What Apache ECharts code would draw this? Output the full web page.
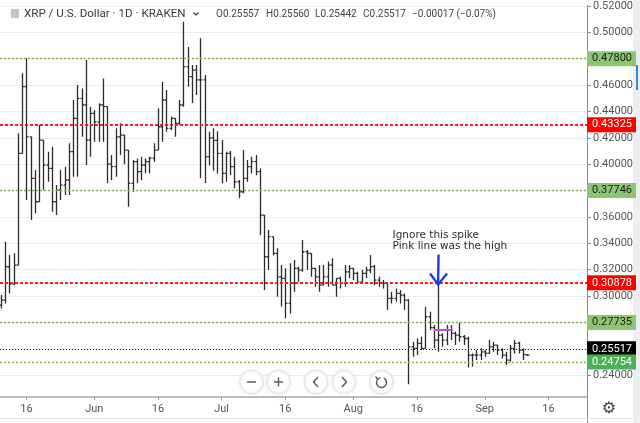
<!DOCTYPE html>
<html><head><meta charset="utf-8">
<script src="https://cdn.jsdelivr.net/npm/echarts@6/dist/echarts.min.js"></script>
<style>html,body{margin:0;padding:0;background:#fff}#c{width:640px;height:423px}</style>
</head><body><div id="c"></div><script>
// ---------- data ----------
const firstDate = '2019-05-10';
const barCount = 125;
const openVals = [
0.2930,0.2969,0.3222,0.3091,0.3235,0.4082,0.4588,0.4208,0.3893,0.3715,
0.4183,0.3994,0.3969,0.3715,0.3804,0.3842,0.3880,0.4095,0.4348,0.4500,
0.4449,0.4183,0.4386,0.4320,0.4449,0.4436,0.4000,0.3981,0.4208,0.4221,
0.4107,0.3855,0.4019,0.3943,0.3994,0.4019,0.4045,0.4107,0.4284,0.4487,
0.4272,0.4348,0.4310,0.4449,0.4740,0.4664,0.4714,0.4639,0.4639,0.4057,
0.4200,0.4180,0.4082,0.3930,0.4082,0.3981,0.3867,0.3791,0.3892,0.3981,
0.4019,0.3943,0.3614,0.3298,0.3450,0.3324,0.3146,0.3134,0.2944,0.3096,
0.3210,0.3197,0.3336,0.3324,0.3210,0.3146,0.3083,0.3146,0.3235,0.3083,
0.3134,0.3096,0.3184,0.3210,0.3172,0.3108,0.3172,0.3197,0.3223,0.3121,
0.3096,0.3096,0.2982,0.2982,0.3020,0.3007,0.2969,0.2615,0.2603,0.2641,
0.2603,0.2843,0.2760,0.2665,0.2704,0.2666,0.2742,0.2717,0.2704,0.2691,
0.2678,0.2552,0.2552,0.2552,0.2577,0.2565,0.2615,0.2628,0.2590,0.2552,
0.2514,0.2603,0.2641,0.2590,0.25557];
const highVals = [
0.3007,0.3412,0.3311,0.3324,0.4234,0.4689,0.4803,0.4208,0.3956,0.4297,
0.4183,0.4095,0.4133,0.3842,0.3956,0.3981,0.4158,0.4487,0.4601,0.4575,
0.4791,0.4436,0.4411,0.4462,0.4651,0.4436,0.4069,0.4272,0.4310,0.4221,
0.4107,0.4032,0.4044,0.4057,0.4044,0.4057,0.4158,0.4424,0.4626,0.4563,
0.4360,0.4348,0.4487,0.5081,0.4889,0.4752,0.4752,0.4955,0.4676,0.4246,
0.4272,0.4250,0.4183,0.4095,0.4100,0.4057,0.3880,0.4107,0.4031,0.4057,
0.4069,0.3969,0.3614,0.3500,0.3450,0.3362,0.3235,0.3210,0.3248,0.3273,
0.3222,0.3425,0.3349,0.3324,0.3210,0.3235,0.3235,0.3261,0.3286,0.3134,
0.3146,0.3235,0.3235,0.3210,0.3184,0.3197,0.3223,0.3311,0.3235,0.3147,
0.3121,0.3096,0.3033,0.3058,0.3045,0.3020,0.2975,0.2653,0.2678,0.2691,
0.2918,0.2881,0.2780,0.3088,0.2717,0.2780,0.2780,0.2729,0.2797,0.2704,
0.2691,0.2565,0.2590,0.2603,0.2590,0.2666,0.2653,0.2628,0.2603,0.2577,
0.2628,0.2666,0.2653,0.2603,0.25560];
const lowVals = [
0.2905,0.2944,0.3020,0.3083,0.3235,0.4082,0.3728,0.3576,0.3627,0.3715,
0.3804,0.3867,0.3639,0.3614,0.3728,0.3766,0.3766,0.3905,0.3905,0.4208,
0.3994,0.4057,0.4170,0.4170,0.4170,0.3855,0.3880,0.3905,0.4069,0.4000,
0.3677,0.3791,0.3855,0.3880,0.3931,0.3931,0.4019,0.4107,0.4170,0.4246,
0.4259,0.4208,0.4297,0.4436,0.4588,0.4464,0.4525,0.3895,0.3857,0.3990,
0.3950,0.3930,0.3855,0.3867,0.3917,0.3817,0.3741,0.3780,0.3867,0.3930,
0.3917,0.3462,0.3045,0.3197,0.3310,0.2994,0.2919,0.2830,0.2868,0.3033,
0.3108,0.3184,0.3197,0.3146,0.3070,0.3033,0.3083,0.3070,0.3083,0.2994,
0.3058,0.3070,0.3134,0.3121,0.3108,0.3108,0.3134,0.3172,0.3083,0.3071,
0.3058,0.2894,0.2944,0.2957,0.2944,0.2894,0.2330,0.2539,0.2552,0.2590,
0.2603,0.2742,0.2603,0.2577,0.2615,0.2628,0.2666,0.2628,0.2653,0.2628,
0.2458,0.2463,0.2514,0.2514,0.2539,0.2565,0.2577,0.2552,0.2527,0.2476,
0.2501,0.2565,0.2565,0.2514,0.25442];
const closeVals = [
0.2969,0.3222,0.3091,0.3235,0.4082,0.4588,0.4208,0.3893,0.3715,0.4183,
0.3994,0.3969,0.3715,0.3804,0.3842,0.3880,0.4095,0.4348,0.4500,0.4449,
0.4183,0.4386,0.4320,0.4449,0.4436,0.4000,0.3981,0.4208,0.4221,0.4107,
0.3855,0.4019,0.3943,0.3994,0.4019,0.4045,0.4107,0.4284,0.4487,0.4272,
0.4348,0.4310,0.4449,0.4740,0.4664,0.4714,0.4639,0.4639,0.4057,0.4200,
0.4180,0.4082,0.3930,0.4082,0.3981,0.3867,0.3791,0.3892,0.3981,0.4019,
0.3943,0.3614,0.3298,0.3450,0.3324,0.3146,0.3134,0.2944,0.3096,0.3210,
0.3197,0.3336,0.3324,0.3210,0.3146,0.3083,0.3146,0.3235,0.3083,0.3134,
0.3096,0.3184,0.3210,0.3172,0.3108,0.3172,0.3197,0.3223,0.3121,0.3096,
0.3096,0.2982,0.2982,0.3020,0.3007,0.2969,0.2615,0.2603,0.2641,0.2603,
0.2843,0.2760,0.2665,0.2704,0.2666,0.2742,0.2717,0.2704,0.2691,0.2678,
0.2552,0.2552,0.2552,0.2577,0.2565,0.2615,0.2628,0.2590,0.2552,0.2514,
0.2603,0.2641,0.2590,0.25557,0.25517];

const levelValues = [0.47800, 0.43325, 0.37746, 0.30878, 0.27735, 0.25517, 0.24754];
const levelKinds  = ['green','red','green','red','green','price','greenDark'];
const pinkLineValue = 0.2742;
const pinkLineFrom = '2019-08-20', pinkLineTo = '2019-08-24';
const spikeDate = '2019-08-21', spikeHigh = 0.30878;
const noteLines = ['Ignore this spike', 'Pink line was the high'];
const xTickDates = ['2019-05-16','2019-06-01','2019-06-16','2019-07-01','2019-07-16','2019-08-01','2019-08-16','2019-09-01','2019-09-16'];
const headerTitle = 'XRP / U.S. Dollar · 1D · KRAKEN';
const headerChange = '−0.00017 (−0.07%)';

// ---------- helpers ----------
const DAY = 86400000;
const refT = Date.parse('2019-05-16T00:00:00Z');
const dayNum = s => Math.round((Date.parse(s + 'T00:00:00Z') - refT) / DAY);
const dates = [];
for (let i = 0; i < barCount; i++) dates.push(new Date(Date.parse(firstDate + 'T00:00:00Z') + i * DAY).toISOString().slice(0, 10));
const MONTHS = ['Jan','Feb','Mar','Apr','May','Jun','Jul','Aug','Sep','Oct','Nov','Dec'];
const items = dates.map((d, i) => [dayNum(d), openVals[i], highVals[i], lowVals[i], closeVals[i]]);

const levelStyle = {
  green:     {line:'#7cb342', type:[2,2], width:1.4, box:'#8fc474', text:'#1b1b1b'},
  red:       {line:'#ff1a1a', type:[3,2], width:1.8, box:'#ff0000', text:'#ffffff'},
  price:     {line:'#111111', type:[1,2], width:1,   box:'#000000', text:'#ffffff'},
  greenDark: {line:'#7cb342', type:[2,2], width:1.4, box:'#4caf50', text:'#ffffff'}
};
const FONT = 'Roboto';

function renderItem(params, api) {
  const x = api.value(0);
  const pH = api.coord([x, api.value(2)]);
  const pL = api.coord([x, api.value(3)]);
  const pO = api.coord([x, api.value(1)]);
  const pC = api.coord([x, api.value(4)]);
  const w = api.size([1, 0])[0] * 0.45;
  const cx = Math.round(pH[0]) + 0.5;
  const style = {stroke: '#2b2b2b', lineWidth: 1.3};
  return {type: 'group', children: [
    {type: 'line', shape: {x1: cx, y1: pH[1], x2: cx, y2: pL[1]}, style},
    {type: 'line', shape: {x1: cx - w, y1: pO[1], x2: cx, y2: pO[1]}, style},
    {type: 'line', shape: {x1: cx, y1: pC[1], x2: cx + w, y2: pC[1]}, style}
  ]};
}

const markData = levelValues.map((v, i) => {
  const s = levelStyle[levelKinds[i]];
  return {
    yAxis: v,
    lineStyle: {color: s.line, type: s.type, width: s.width},
    label: {show: true, position: 'end', distance: 0, formatter: v.toFixed(5),
      backgroundColor: s.box, color: s.text, padding: [2, 4, 2, 5], fontSize: 11, fontFamily: FONT}
  };
});
markData.push([
  {coord: [dayNum(pinkLineFrom), pinkLineValue], lineStyle: {color: '#c44fc4', type: 'solid', width: 2}, label: {show: false}},
  {coord: [dayNum(pinkLineTo) + 0.5, pinkLineValue]}
]);

const chart = echarts.init(document.getElementById('c'), null, {renderer: 'canvas'});
const xMin = -6.22, xMax = 132.09;
chart.setOption({
  animation: false,
  backgroundColor: '#ffffff',
  grid: {left: 0, right: 53, top: 6, bottom: 21.5, containLabel: false},
  xAxis: {
    type: 'value', min: xMin, max: xMax, offset: -4.5,
    axisLine: {show: true, onZero: false, lineStyle: {color: '#a8a8a8', width: 1.5}},
    axisTick: {show: true, length: 3, customValues: xTickDates.map(dayNum), lineStyle: {color: '#999'}},
    axisLabel: {show: true, customValues: xTickDates.map(dayNum), margin: 7, color: '#555', fontSize: 11, fontFamily: FONT,
      formatter: v => { const t = new Date(refT + v * DAY); const d = t.getUTCDate(); return d === 1 ? MONTHS[t.getUTCMonth()] : String(d); }},
    splitLine: {show: false}
  },
  yAxis: {
    type: 'value', position: 'right', min: 0.22, max: 0.52, interval: 0.02,
    axisLine: {show: true, onZero: false, lineStyle: {color: '#8a8a8a', width: 1}},
    axisTick: {show: true, length: 4, lineStyle: {color: '#8a8a8a'}},
    axisLabel: {show: true, margin: 6, color: '#555', fontSize: 11, fontFamily: FONT, showMinLabel: false,
      formatter: v => v.toFixed(5)},
    splitLine: {show: true, showMinLine: false, lineStyle: {color: '#ececec', width: 1}}
  },
  series: [{
    type: 'custom', renderItem, data: items, encode: {x: 0, y: [1, 2, 3, 4]}, clip: true, z: 3,
    markLine: {silent: true, symbol: ['none', 'none'], animation: false, z: 4, data: markData}
  }]
});

// ---------- annotations anchored to data ----------
const tip = chart.convertToPixel({seriesIndex: 0}, [dayNum(spikeDate), spikeHigh]);
const tx = tip[0], ty = tip[1];
const btnY = 382;
const hdrFont = '10px ' + FONT;
const graphics = [
  // header
  {type: 'rect', shape: {x: 11, y: 9, width: 8, height: 9}, style: {fill: '#c4c4c4'}},
  {type: 'text', style: {x: 24, y: 14, text: headerTitle, fill: '#3a3a3a', font: '11.6px ' + FONT, textVerticalAlign: 'middle'}},
  {type: 'polyline', shape: {points: [[193.5, 12.5], [196, 15], [198.5, 12.5]]}, style: {stroke: '#3a3a3a', lineWidth: 1.2, fill: null}},
  {type: 'text', style: {x: 216, y: 14.5, text: 'O' + openVals[barCount - 1].toFixed(5), fill: '#444', font: hdrFont, textVerticalAlign: 'middle'}},
  {type: 'text', style: {x: 266, y: 14.5, text: 'H' + highVals[barCount - 1].toFixed(5), fill: '#444', font: hdrFont, textVerticalAlign: 'middle'}},
  {type: 'text', style: {x: 315, y: 14.5, text: 'L' + lowVals[barCount - 1].toFixed(5), fill: '#444', font: hdrFont, textVerticalAlign: 'middle'}},
  {type: 'text', style: {x: 363, y: 14.5, text: 'C' + closeVals[barCount - 1].toFixed(5), fill: '#444', font: hdrFont, textVerticalAlign: 'middle'}},
  {type: 'text', style: {x: 412, y: 14.5, text: headerChange, fill: '#444', font: hdrFont, textVerticalAlign: 'middle'}},
  // note + arrow
  {type: 'text', z: 10, style: {x: tx - 45.5, y: ty - 49, text: noteLines[0], fill: '#2b2b2b', font: '10.5px "DejaVu Sans"', textVerticalAlign: 'middle'}},
  {type: 'text', z: 10, style: {x: tx - 45.5, y: ty - 38, text: noteLines[1], fill: '#2b2b2b', font: '10.5px "DejaVu Sans"', textVerticalAlign: 'middle'}},
  {type: 'line', z: 10, shape: {x1: tx + 0.5, y1: ty - 30, x2: tx, y2: ty}, style: {stroke: '#1f3fd6', lineWidth: 2.4}},
  {type: 'polyline', z: 10, shape: {points: [[tx - 8, ty - 11], [tx, ty], [tx + 9, ty - 11]]}, style: {stroke: '#1f3fd6', lineWidth: 2.4, fill: null}},
  // right strip + bottom lines
  {type: 'rect', shape: {x: 633, y: 0, width: 7, height: 423}, style: {fill: '#eceef2'}},
  {type: 'rect', shape: {x: 636, y: 65, width: 2, height: 25}, style: {fill: '#2a8de6'}},
  {type: 'line', shape: {x1: 587.5, y1: 397, x2: 587.5, y2: 423}, style: {stroke: '#8a8a8a', lineWidth: 1}},
  {type: 'line', shape: {x1: 0, y1: 418.5, x2: 633, y2: 418.5}, style: {stroke: '#e3e5ea', lineWidth: 1}},
  {type: 'text', style: {x: 609, y: 409, text: '⚙', fill: '#444', font: '16px "DejaVu Sans"', textAlign: 'center', textVerticalAlign: 'middle'}},
  // navigation buttons
  ...[251.5, 278.5, 316, 344, 381.5].map(cx => ({type: 'circle', z: 8, shape: {cx, cy: btnY, r: 11.5},
    style: {fill: '#ffffff', stroke: '#e4e4e4', lineWidth: 1, shadowBlur: 3, shadowColor: 'rgba(0,0,0,0.12)'}})),
  {type: 'line', z: 9, shape: {x1: 247, y1: btnY, x2: 256, y2: btnY}, style: {stroke: '#555', lineWidth: 1.4}},
  {type: 'line', z: 9, shape: {x1: 274, y1: btnY, x2: 283, y2: btnY}, style: {stroke: '#555', lineWidth: 1.4}},
  {type: 'line', z: 9, shape: {x1: 278.5, y1: btnY - 4.5, x2: 278.5, y2: btnY + 4.5}, style: {stroke: '#555', lineWidth: 1.4}},
  {type: 'polyline', z: 9, shape: {points: [[318, btnY - 5], [313.5, btnY], [318, btnY + 5]]}, style: {stroke: '#555', lineWidth: 1.4, fill: null}},
  {type: 'polyline', z: 9, shape: {points: [[342, btnY - 5], [346.5, btnY], [342, btnY + 5]]}, style: {stroke: '#555', lineWidth: 1.4, fill: null}},
  {type: 'arc', z: 9, shape: {cx: 381.5, cy: btnY + 0.5, r: 5, startAngle: -Math.PI * 0.35, endAngle: Math.PI * 1.25}, style: {stroke: '#555', lineWidth: 1.4, fill: null}},
  {type: 'polyline', z: 9, shape: {points: [[375.5, btnY - 5.5], [377.5, btnY - 3], [380.5, btnY - 4.5]]}, style: {stroke: '#555', lineWidth: 1.3, fill: null}}
];
chart.setOption({graphic: graphics});
</script></body></html>
